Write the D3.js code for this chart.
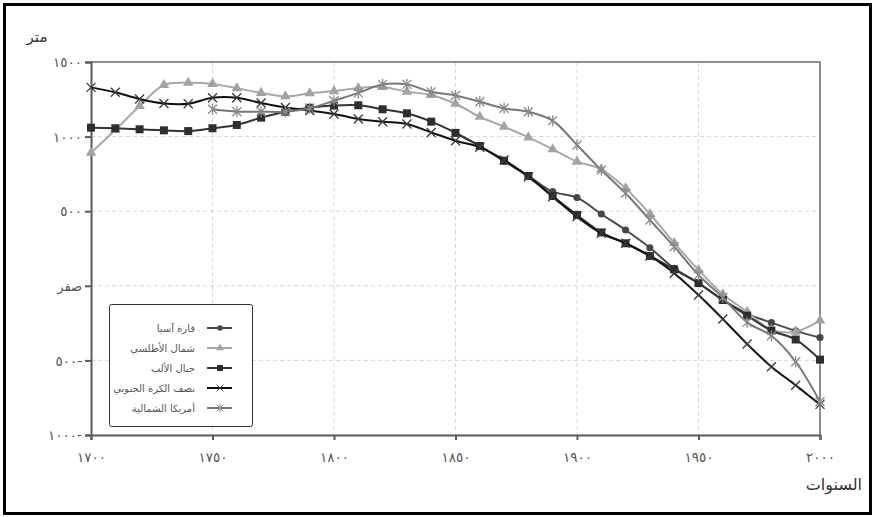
<!DOCTYPE html>
<html lang="ar">
<head>
<meta charset="utf-8">
<script src="https://cdn.jsdelivr.net/npm/d3@7"></script>
<style>
  html, body { margin: 0; padding: 0; background: #fff; }
  svg { display: block; font-family: "DejaVu Sans", sans-serif; }
</style>
</head>
<body>
<svg id="chart" width="874" height="517"></svg>
<script>
// ---- data ----
const years = [1700,1710,1720,1730,1740,1750,1760,1770,1780,1790,1800,1810,1820,1830,1840,1850,1860,1870,1880,1890,1900,1910,1920,1930,1940,1950,1960,1970,1980,1990,2000];

const asia = [null,null,null,null,null,null,null,null,null,null,null,null,null,null,null,1022,937,835,736,631,591,481,374,255,117,17,-95,-186,-247,-302,-347];
const atlantic = [892,1044,1205,1346,1361,1353,1324,1293,1270,1290,1305,1326,1333,1301,1279,1220,1133,1066,995,915,832,781,654,481,287,106,-57,-174,-296,-307,-232];
const alps = [1060,1056,1049,1042,1037,1056,1078,1127,1167,1193,1208,1210,1183,1156,1100,1025,937,839,736,602,475,358,285,200,110,18,-95,-200,-300,-360,-495];
const southern = [1330,1297,1252,1222,1220,1260,1260,1225,1195,1175,1152,1118,1100,1084,1028,972,928,843,731,597,463,352,285,200,84,-62,-222,-390,-542,-667,-795];
const northAmerica = [null,null,null,null,null,1183,1167,1167,1167,1190,1240,1293,1350,1350,1300,1276,1234,1190,1167,1107,944,776,620,441,262,72,-78,-245,-335,-509,-777];

const seriesNames = ["قارة آسيا","شمال الأطلسي","جبال الألب","نصف الكرة الجنوبي","أمريكا الشمالية"];
const seriesValues = [asia, atlantic, alps, southern, northAmerica];

const yTicks = [1500, 1000, 500, 0, -500, -1000];
const yTickLabels = ["١٥٠٠","١٠٠٠","٥٠٠","صفر","٥٠٠-","١٠٠٠-"];
const xTicks = [1700,1750,1800,1850,1900,1950,2000];
const xTickLabels = ["١٧٠٠","١٧٥٠","١٨٠٠","١٨٥٠","١٩٠٠","١٩٥٠","٢٠٠٠"];
const yTitle = "متر";
const xTitle = "السنوات";

// ---- styles ----
const styles = [
  {line:"#4a4a4a", mark:"#474747", shape:"circle"},
  {line:"#a8a8a8", mark:"#a3a3a3", shape:"triangle"},
  {line:"#333333", mark:"#2e2e2e", shape:"square"},
  {line:"#111111", mark:"#3a3a3a", shape:"x"},
  {line:"#777777", mark:"#8a8a8a", shape:"asterisk"}
];

const svg = d3.select("#chart");
const W = 874, H = 517;
const m = {left: 91, right: 54, top: 62, bottom: 82};
const pw = W - m.left - m.right, ph = H - m.top - m.bottom;

// outer frame
svg.append("rect").attr("x",4.5).attr("y",4.5).attr("width",866).attr("height",509)
  .attr("fill","none").attr("stroke","#000").attr("stroke-width",3);

const x = d3.scaleLinear().domain([1700,2000]).range([m.left, m.left+pw]);
const y = d3.scaleLinear().domain([-1000,1500]).range([m.top+ph, m.top]);

// grid
const g = svg.append("g");
g.selectAll(".vg").data(xTicks.slice(1,-1)).enter().append("line")
  .attr("x1",d=>x(d)).attr("x2",d=>x(d)).attr("y1",m.top).attr("y2",m.top+ph)
  .attr("stroke","#d8d8d8").attr("stroke-dasharray","4,3").attr("stroke-width",1);
g.selectAll(".hg").data(yTicks.slice(1,-1)).enter().append("line")
  .attr("x1",m.left).attr("x2",m.left+pw).attr("y1",d=>y(d)).attr("y2",d=>y(d))
  .attr("stroke","#d8d8d8").attr("stroke-dasharray","4,3").attr("stroke-width",1);

// plot frame (top and right)
svg.append("path")
  .attr("d",`M${m.left},${m.top}H${m.left+pw}V${m.top+ph}`)
  .attr("fill","none").attr("stroke","#6a6a6a").attr("stroke-width",1.5);

// axes
const yAxis = d3.axisLeft(y).tickValues(yTicks).tickFormat((d,i)=>yTickLabels[i]).tickSize(6).tickPadding(3);
const xAxis = d3.axisBottom(x).tickValues(xTicks).tickFormat((d,i)=>xTickLabels[i]).tickSize(5).tickPadding(12);

const ya = svg.append("g").attr("transform",`translate(${m.left},0)`).call(yAxis);
const xa = svg.append("g").attr("transform",`translate(0,${m.top+ph})`).call(xAxis);
[ya, xa].forEach(a => {
  a.select(".domain").attr("stroke","#5a5a5a").attr("stroke-width",2);
  a.selectAll(".tick line").attr("stroke","#5a5a5a").attr("stroke-width",2);
  a.selectAll(".tick text").attr("fill","#555").style("font-size","13.5px")
    .style("font-family","'DejaVu Sans', sans-serif")
    .style("direction","ltr").style("unicode-bidi","bidi-override");
});
ya.selectAll(".tick text").attr("dy","0.35em");
ya.selectAll(".tick text").filter((d)=>d===0).style("font-size","13px").style("unicode-bidi","normal");

// titles
svg.append("text").attr("x",37).attr("y",42).attr("text-anchor","middle")
  .attr("fill","#333").style("font-size","15px").text(yTitle);
svg.append("text").attr("x",862).attr("y",490).attr("text-anchor","end")
  .attr("fill","#333").style("font-size","16px").text(xTitle);

// markers
function markerPath(shape){
  switch(shape){
    case "circle": return d3.symbol().type(d3.symbolCircle).size(40)();
    case "triangle": return d3.symbol().type(d3.symbolTriangle).size(48)();
    case "square": return "M-4,-4H4V4H-4Z";
    case "x": return "M-4.5,-4.5L4.5,4.5M-4.5,4.5L4.5,-4.5";
    case "asterisk": return "M-4.5,-4.5L4.5,4.5M-4.5,4.5L4.5,-4.5M0,-5.5V5.5";
  }
}
function drawMarker(sel, st){
  const p = sel.append("path").attr("d", markerPath(st.shape));
  if (st.shape==="x" || st.shape==="asterisk") {
    p.attr("fill","none").attr("stroke",st.mark).attr("stroke-width",1.3);
  } else {
    p.attr("fill",st.mark).attr("stroke","none");
  }
  return p;
}

const line = d3.line()
  .defined(d=>d.v!==null)
  .x(d=>x(d.yr)).y(d=>y(d.v))
  .curve(d3.curveCatmullRom.alpha(0.5));

const plot = svg.append("g");
seriesValues.forEach((vals, si) => {
  const st = styles[si];
  const data = years.map((yr,i)=>({yr, v: vals[i]}));
  const sg = plot.append("g");
  sg.append("path").datum(data).attr("d",line)
    .attr("fill","none").attr("stroke",st.line).attr("stroke-width",2);
  data.filter(d=>d.v!==null).forEach(d => {
    const mg = sg.append("g").attr("transform",`translate(${x(d.yr)},${y(d.v)})`);
    drawMarker(mg, st);
  });
});

// legend
const lg = svg.append("g");
lg.append("rect").attr("x",109.5).attr("y",304.5).attr("width",143).attr("height",122).attr("rx",2)
  .attr("fill","#fff").attr("stroke","#333").attr("stroke-width",1);
const legendY = [328, 348, 368, 388, 408];
seriesNames.forEach((name, i) => {
  const st = styles[i];
  const yy = legendY[i];
  lg.append("line").attr("x1",207).attr("x2",232).attr("y1",yy).attr("y2",yy)
    .attr("stroke",st.line).attr("stroke-width",2);
  const mg = lg.append("g").attr("transform",`translate(220,${yy})`);
  drawMarker(mg, st).attr("transform","scale(0.75)");
  lg.append("text").attr("x",195).attr("y",yy).attr("dy","0.35em").attr("text-anchor","end")
    .attr("fill","#555").style("font-size","10px").text(name);
});
</script>
</body>
</html>
